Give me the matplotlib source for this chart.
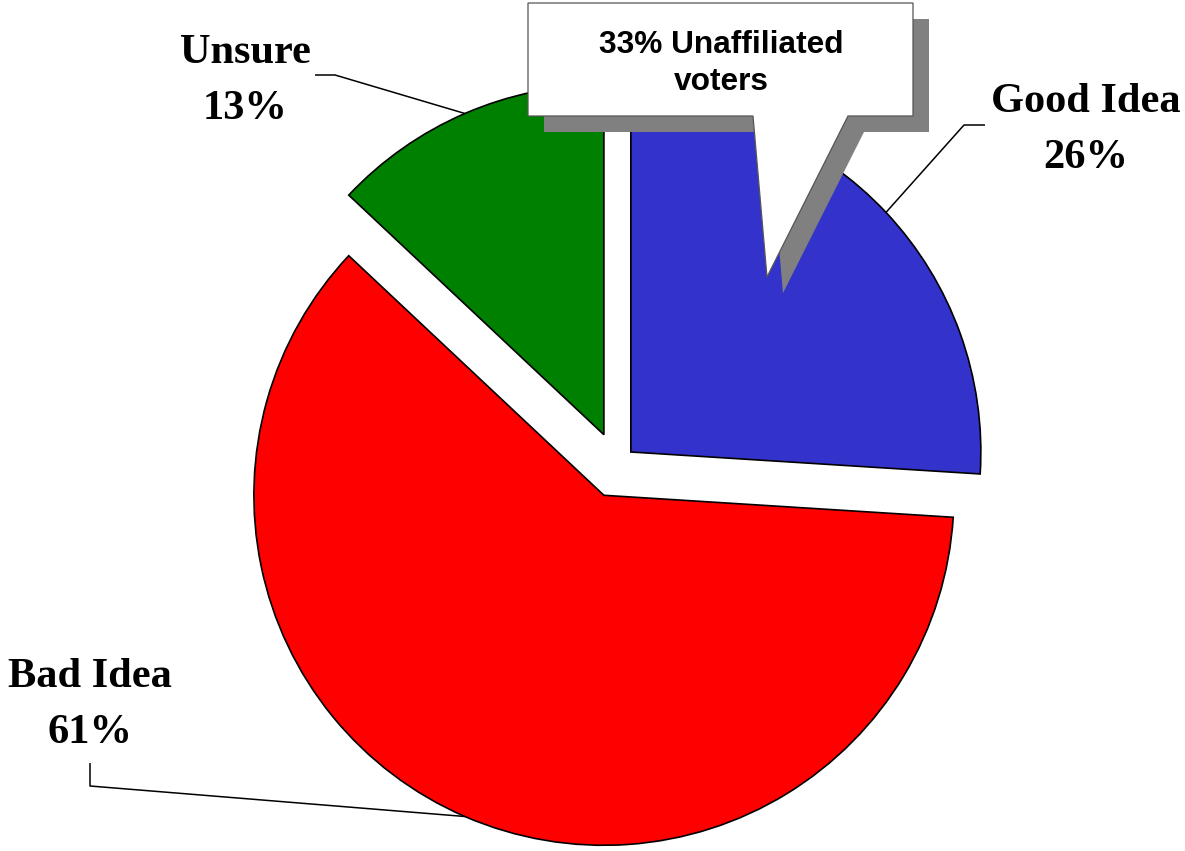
import numpy as np
import matplotlib
matplotlib.use('Agg')
import matplotlib.pyplot as plt
from matplotlib.patches import Polygon

# Survey results
labels = ['Good Idea', 'Bad Idea', 'Unsure']
shares = [26, 61, 13]
unaffiliated_share = 33

colors = ['#3333CC', '#FF0000', '#008000']
explode = [19, 33, 33]  # pixels, pie is drawn in pixel units

W, H = 1185, 851
fig = plt.figure(figsize=(W / 100, H / 100), dpi=100, facecolor='white')
ax = fig.add_axes([0, 0, 1, 1])


def py(y):
    # image-style y (top down) -> data y
    return H - y


wedges, _ = ax.pie(shares, colors=colors, explode=explode, startangle=90,
                   counterclock=False, radius=350, center=(617, py(465)),
                   wedgeprops=dict(edgecolor='black', linewidth=1.2))
ax.set_xlim(0, W)
ax.set_ylim(0, H)
ax.set_aspect('equal')
ax.axis('off')

serif = dict(family='Liberation Serif', fontweight='bold', fontsize=30.5,
             ha='center', va='baseline', color='black')

# label text positions (x, first baseline) and leader elbow points
label_pos = [(1086, 112), (90, 687), (245, 63)]
leaders = [[(985, 125), (964, 125)],
           [(90, 763), (90, 786)],
           [(315, 75), (335, 75)]]

for w, lab, val, (lx, ly), pts in zip(wedges, labels, shares, label_pos, leaders):
    ax.text(lx, py(ly), lab, **serif)
    ax.text(lx, py(ly + 56), f'{val}%', **serif)
    mid = np.deg2rad(0.5 * (w.theta1 + w.theta2))
    cx, cy = w.center
    ex, ey = cx + w.r * np.cos(mid), cy + w.r * np.sin(mid)
    xs = [p[0] for p in pts] + [ex]
    ys = [py(p[1]) for p in pts] + [ey]
    ax.plot(xs, ys, color='black', lw=1.1, solid_capstyle='butt', zorder=3)

# speech-bubble callout with drop shadow
bubble = [(528, 3), (913, 3), (913, 116), (848, 116), (767, 277),
          (753, 116), (528, 116)]
shadow = [(x + 16, y + 16) for x, y in bubble]
ax.add_patch(Polygon([(x, py(y)) for x, y in shadow], closed=True,
                     facecolor='#808080', edgecolor='none', zorder=5))
ax.add_patch(Polygon([(x, py(y)) for x, y in bubble], closed=True,
                     facecolor='white', edgecolor='#555555', lw=0.9, zorder=6))
sans = dict(family='Liberation Sans', fontweight='bold', fontsize=22.8,
            ha='center', va='baseline', color='black', zorder=7)
ax.text(721, py(53), f'{unaffiliated_share}% Unaffiliated', **sans)
ax.text(721, py(90), 'voters', **sans)

fig.savefig('out.png', dpi=100, facecolor='white')
